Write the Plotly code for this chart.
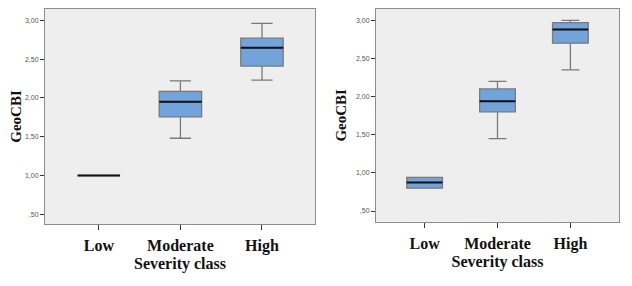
import plotly.graph_objects as go

categories = ["Low", "Moderate", "High"]

# Left panel (GeoCBI by severity class)
left_lower = [1.00, 1.48, 2.23]
left_q1 = [1.00, 1.755, 2.41]
left_median = [1.00, 1.95, 2.645]
left_q3 = [1.00, 2.085, 2.77]
left_upper = [1.00, 2.22, 2.96]

# Right panel
right_lower = [0.80, 1.45, 2.35]
right_q1 = [0.80, 1.80, 2.70]
right_median = [0.875, 1.94, 2.88]
right_q3 = [0.942, 2.10, 2.97]
right_upper = [0.942, 2.20, 3.00]

ytick_vals = [0.5, 1.0, 1.5, 2.0, 2.5, 3.0]
ytick_text = [",50", "1,00", "1,50", "2,00", "2,50", "3,00"]

BOX_FILL = "#72a3da"
BOX_LINE = "#7a7a7a"
SERIF = "Liberation Serif"

fig = go.Figure()

def add_panel(xa, ya, lo, q1, med, q3, up, width):
    fig.add_trace(go.Box(
        x=categories, q1=q1, median=med, q3=q3, lowerfence=lo, upperfence=up,
        xaxis=xa, yaxis=ya, width=width, whiskerwidth=0.5,
        fillcolor=BOX_FILL, line=dict(color=BOX_LINE, width=1.3),
        boxpoints=False, showlegend=False, hoverinfo="skip",
    ))
    fig.add_trace(go.Box(
        x=categories, q1=med, median=med, q3=med, lowerfence=med, upperfence=med,
        xaxis=xa, yaxis=ya, width=width, whiskerwidth=0,
        fillcolor="rgba(0,0,0,0)", line=dict(color="#111111", width=2),
        boxpoints=False, showlegend=False, hoverinfo="skip",
    ))

add_panel("x", "y", left_lower, left_q1, left_median, left_q3, left_upper, 0.52)
add_panel("x2", "y2", right_lower, right_q1, right_median, right_q3, right_upper, 0.49)

xcommon = dict(
    type="category", categoryorder="array", categoryarray=categories,
    showline=True, linecolor="#8c8c8c", linewidth=1, mirror=True,
    ticks="outside", ticklen=5, tickcolor="#333333",
    tickfont=dict(family=SERIF, size=16, color="#111111"),
    showgrid=False, zeroline=False, ticklabelstandoff=2,
    title_font=dict(family=SERIF, size=16, color="#111111"),
    title_standoff=3, automargin=False,
)
ycommon = dict(
    tickvals=ytick_vals, ticktext=ytick_text,
    showline=True, linecolor="#8c8c8c", linewidth=1, mirror=True,
    ticks="outside", ticklen=4, tickcolor="#333333",
    tickfont=dict(family="Liberation Sans", size=7, color="#555555"),
    showgrid=False, zeroline=False, automargin=False,
    title_font=dict(family=SERIF, size=15, color="#111111"),
)

# page body has an 8px margin, so the figure is 8px smaller than the window
fig.update_layout(
    width=624, height=278,
    margin=dict(l=0, r=0, t=0, b=0, autoexpand=False),
    paper_bgcolor="white", plot_bgcolor="#eeeeee",
    boxmode="overlay",
    xaxis=dict(xcommon, domain=[0.0593, 0.4920], range=[-0.66, 2.65], anchor="y",
               title_text="<b>Severity class</b>"),
    yaxis=dict(ycommon, domain=[0.2230, 0.9964], range=[0.375, 3.146], anchor="x",
               title_text="<b>GeoCBI</b>", title_standoff=16),
    xaxis2=dict(xcommon, domain=[0.5897, 0.9792], range=[-0.667, 2.667], anchor="y2",
                title_text="<b>Severity class</b>"),
    yaxis2=dict(ycommon, domain=[0.2313, 0.9964], range=[0.36, 3.148], anchor="x2",
                title_text="<b>GeoCBI</b>", title_standoff=5),
)

fig.update_xaxes(tickprefix="<b>", ticksuffix="</b>")

fig.write_html("out.html")
